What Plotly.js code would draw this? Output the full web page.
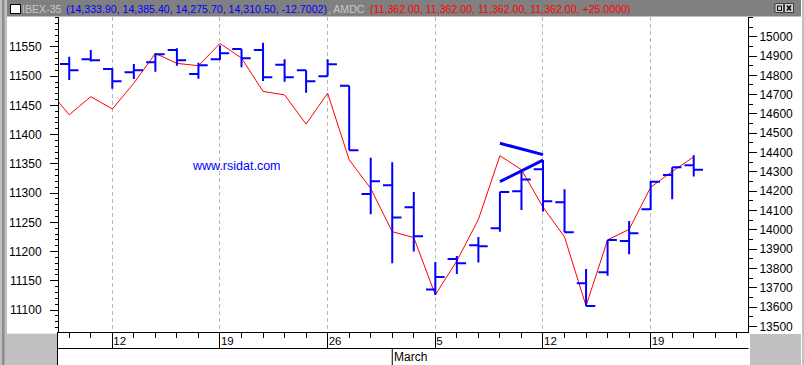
<!DOCTYPE html>
<html>
<head>
<meta charset="utf-8">
<script src="https://cdn.plot.ly/plotly-3.0.1.min.js"></script>
<style>
html,body{margin:0;padding:0;background:#fff;}
#chart{width:804px;height:365px;}
</style>
</head>
<body>
<div id="chart"></div>
<script>
// ---- data ----
const dates = ['2007-02-07','2007-02-08','2007-02-09','2007-02-12','2007-02-13','2007-02-14','2007-02-15','2007-02-16',
  '2007-02-19','2007-02-20','2007-02-21','2007-02-22','2007-02-23','2007-02-26','2007-02-27','2007-02-28',
  '2007-03-01','2007-03-02','2007-03-05','2007-03-06','2007-03-07','2007-03-08','2007-03-09','2007-03-12',
  '2007-03-13','2007-03-14','2007-03-15','2007-03-16','2007-03-19','2007-03-20','2007-03-21','2007-03-22','2007-03-23'];

// IBEX-35 OHLC (right axis)
const ibexOpen  = [null,14859,14883,14833,14816,14867,14931,14807,14883,14936,14931,14855,14826,14795,14746,14185,
  14230,14117,13690,13849,13920,14008,14199,14313,14142,13723,13780,13942,14106,14284,14333.9,null,null];
const ibexHigh  = [null,14896,14931,14836,14859,14914,14940,14865,14955,14936,14969,14883,14826,14883,14746,14373,
  14350,14195,13833,13864,13963,14197,14310,14361,14210,13797,13947,14046,14253,14324,14385.4,null,null];
const ibexLow   = [null,14776,14871,14731,14781,14819,14850,14782,14879,14842,14771,14767,14710,14795,14412,14080,
  13826,13887,13662,13771,13830,13990,14102,14094,13987,13605,13762,13873,14102,14158,14275.7,null,null];
const ibexClose = [null,14826,14878,14769,14826,14909,14878,14852,14914,14888,14790,14790,14769,14857,14412,14251,
  14063,13966,13756,13826,13914,14196,14261,14148,13987,13605,13947,13982,14249,14323.2,14310.5,null,null];

// AMDC line (left axis)
const amdc = [11478,11434,11465,11444,11488,11539,11522,11518,11556,11531,11474,11468,11418,11471,11357,11308,
  11234,11224,11126,11184,11255,11364,11340,11276,11225,11107,11220,11238,11310,11337,11362,null,null];

// hand-drawn trendlines (right axis), by date
const trendUpperX = ['2007-03-08','2007-03-12'];
const trendUpperY = [14448,14389];
const trendLowerX = ['2007-03-08','2007-03-12'];
const trendLowerY = [14249,14361];

// axis tick labels
const leftTicks  = [11100,11150,11200,11250,11300,11350,11400,11450,11500,11550];
const rightTicks = [13500,13600,13700,13800,13900,14000,14100,14200,14300,14400,14500,14600,14700,14800,14900,15000];

const monthLabel = 'March';
const titleTexts  = ['IBEX-35', '(14,333.90, 14,385.40, 14,275.70, 14,310.50, -12.7002)', ', AMDC', '(11,362.00, 11,362.00, 11,362.00, 11,362.00, +25.0000)'];
const titleColors = ['#c8c8c8', '#0000ff', '#c8c8c8', '#ff0000'];
const titleStartPx = [21.7, 65.7, 328.3, 370];
const watermark = 'www.rsidat.com';

// ---- derived ----
const idx = dates.map((d,i)=>i);
const pos = d => dates.indexOf(d);
const mondays = idx.filter(i => new Date(dates[i]+'T00:00:00Z').getUTCDay() === 1);
const mondayLbl = mondays.map(i => String(Number(dates[i].slice(8))));
const marchIdx = dates.findIndex(d => d.slice(5,7) === '03');

// ---- geometry helpers (pixel -> paper) ----
const W = 804, H = 365, ML = 59, MR = 56, MT = 17, MB = 33;
const PW = W - ML - MR, PH = H - MT - MB;
const px = x => (x - ML) / PW;
const py = y => (H - MB - y) / PH;

const rect = (x0,y0,x1,y1,fill,line,lw) => ({type:'rect', xref:'paper', yref:'paper',
  x0:px(x0), x1:px(x1), y0:py(y0), y1:py(y1), fillcolor:fill, line:{color:line||fill, width:lw===undefined?0:lw}, layer:'above'});
const hline = (x0,x1,y,c,w) => ({type:'line', xref:'paper', yref:'paper', x0:px(x0), x1:px(x1), y0:py(y), y1:py(y), line:{color:c, width:w||1}, layer:'above'});
const vline = (x,y0,y1,c,w) => ({type:'line', xref:'paper', yref:'paper', x0:px(x), x1:px(x), y0:py(y0), y1:py(y1), line:{color:c, width:w||1}, layer:'above'});

const traces = [
  {type:'scatter', mode:'lines', x:idx, y:amdc, yaxis:'y', line:{color:'#ff0000', width:1}, hoverinfo:'skip', connectgaps:false},
  {type:'ohlc', x:idx, open:ibexOpen, high:ibexHigh, low:ibexLow, close:ibexClose, yaxis:'y2', xaxis:'x',
    tickwidth:0.43, increasing:{line:{color:'#0000ff', width:2}}, decreasing:{line:{color:'#0000ff', width:2}}, hoverinfo:'skip'},
  {type:'scatter', mode:'lines', x:trendUpperX.map(pos), y:trendUpperY, yaxis:'y2', line:{color:'#0000ff', width:3}, hoverinfo:'skip'},
  {type:'scatter', mode:'lines', x:trendLowerX.map(pos), y:trendLowerY, yaxis:'y2', line:{color:'#0000ff', width:3}, hoverinfo:'skip'}
];

const FONT = 'Liberation Sans, Arial, sans-serif';

const shapes = [
  // left frame
  rect(0,0,7,365,'#c0c0c0'),
  rect(2,0,4.5,365,'#8c8c8c'),
  // right frame
  rect(801,0,804,365,'#c0c0c0'),
  vline(801.5,0,365,'#ffffff',1),
  // title bar
  rect(7,0,801,16.5,'#808080'),
  // icon box
  rect(10.5,4.5,20.5,13.5,'#ffffff','#000000',1),
  // window buttons
  rect(775,3.5,783.5,12.5,'#d4d0c8','#404040',1),
  rect(784.5,3.5,793.5,12.5,'#d4d0c8','#404040',1),
  rect(777.5,6,781.5,10.5,'rgba(0,0,0,0)','#000000',1),
  {type:'path', xref:'paper', yref:'paper', path:`M ${px(787)} ${py(5.5)} L ${px(791)} ${py(10.5)} M ${px(787)} ${py(10.5)} L ${px(791)} ${py(5.5)}`, line:{color:'#000', width:1.5}, layer:'above'},
  // bottom gray boxes
  rect(7,333.5,57,365,'#c0c0c0'),
  hline(7,57,333.5,'#e8e8e8',1),
  rect(749,333,801,365,'#c0c0c0'),
  hline(749,801,333.5,'#ffffff',1),
  vline(749.5,333,365,'#ffffff',1),
  // x-axis box lines
  hline(57.5,748.5,348.5,'#000000',1),
  vline(57.5,332,365,'#000000',1),
  // month separator
  {type:'line', xref:'x', yref:'paper', x0:marchIdx, x1:marchIdx, y0:py(348.5), y1:py(365), line:{color:'#000', width:1}, layer:'above'}
];

const annotations = titleTexts.map((t,i) => ({
  xref:'paper', yref:'paper', x:px(titleStartPx[i]-2), y:py(9), xanchor:'left', yanchor:'middle', showarrow:false,
  text:t, font:{family:FONT, size:10.6, color:titleColors[i]}
})).concat([
  {xref:'paper', yref:'paper', x:px(236.7), y:py(165.7), xanchor:'center', yanchor:'middle', showarrow:false,
   text:watermark, font:{family:FONT, size:12.5, color:'#0000ff'}},
  {xref:'x', yref:'paper', x:marchIdx, y:py(356.5), xanchor:'left', yanchor:'middle', showarrow:false, xshift:0,
   text:monthLabel, font:{family:FONT, size:12, color:'#000'}}
]);

const layout = {
  width:W, height:H,
  margin:{l:ML, r:MR, t:MT, b:MB, pad:0},
  paper_bgcolor:'#ffffff', plot_bgcolor:'#ffffff',
  showlegend:false,
  font:{family:FONT, size:12, color:'#000'},
  xaxis:{
    type:'linear', range:[0.525, 32.52], fixedrange:true,
    tickmode:'array', tickvals:mondays, ticktext:mondayLbl,
    ticks:'outside', ticklen:16, tickcolor:'#000', tickwidth:1,
    ticklabelposition:'outside right', ticklabelstandoff:-2,
    tickfont:{family:FONT, size:11.5, color:'#000'},
    showgrid:true, gridcolor:'#b8b8b8', griddash:'4px,3px', gridwidth:1,
    showline:true, linecolor:'#000', linewidth:1, zeroline:false,
    minor:{tickmode:'array', tickvals:idx, ticks:'outside', ticklen:5, tickcolor:'#000', tickwidth:1, showgrid:false},
    rangeslider:{visible:false}
  },
  yaxis:{
    range:[11062.4, 11601.3], fixedrange:true,
    tickmode:'array', tickvals:leftTicks, ticktext:leftTicks.map(String),
    ticks:'outside', ticklen:8, tickcolor:'#000', tickwidth:1,
    ticklabelstandoff:6,
    tickfont:{family:FONT, size:12, color:'#000'},
    showline:true, linecolor:'#000', linewidth:1, showgrid:false, zeroline:false,
    minor:{tickmode:'linear', tick0:0, dtick:10, ticks:'outside', ticklen:3, tickcolor:'#000', tickwidth:1, showgrid:false}
  },
  yaxis2:{
    overlaying:'y', side:'right', range:[13470.5, 15102], fixedrange:true,
    tickmode:'array', tickvals:rightTicks, ticktext:rightTicks.map(String),
    ticks:'outside', ticklen:8, tickcolor:'#000', tickwidth:1,
    ticklabelstandoff:0,
    tickfont:{family:FONT, size:12, color:'#000'},
    showline:true, linecolor:'#000', linewidth:1, showgrid:false, zeroline:false,
    minor:{tickmode:'linear', tick0:0, dtick:50, ticks:'outside', ticklen:4, tickcolor:'#000', tickwidth:1, showgrid:false}
  },
  shapes:shapes,
  annotations:annotations
};

Plotly.newPlot('chart', traces, layout, {displayModeBar:false, staticPlot:true});
</script>
</body>
</html>
